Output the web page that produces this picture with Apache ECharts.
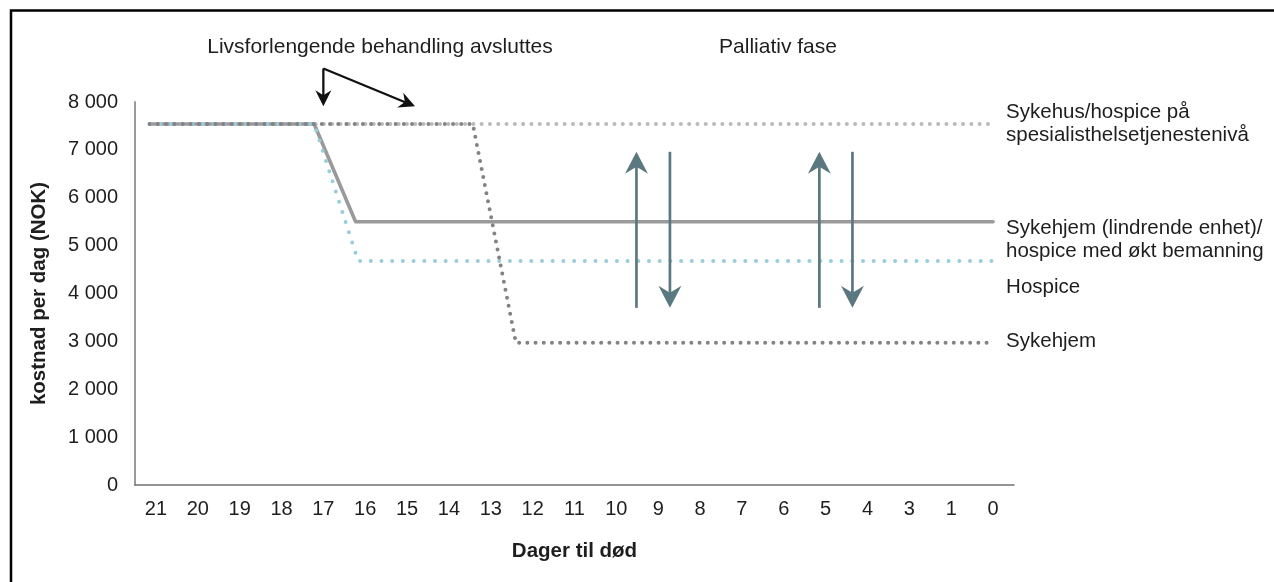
<!DOCTYPE html>
<html>
<head>
<meta charset="utf-8">
<script src="https://cdn.jsdelivr.net/npm/echarts@6/dist/echarts.min.js"></script>
<style>
  html, body { margin: 0; padding: 0; background: #fff; }
  #chart { width: 1274px; height: 582px; }
</style>
</head>
<body>
<div id="chart"></div>
<script>
// Days until death shown on the category axis (2 is not part of the scale)
const categories = ['21', '20', '19', '18', '17', '16', '15', '14', '13', '12', '11', '10', '9', '8', '7', '6', '5', '4', '3', '1', '0'];

// Cost per day (NOK); x is the position along the day axis (0 = "21", 20 = "0")
const sykehusSpesialist = [[-0.15, 7540], [20, 7540]];
const lindrendeEnhet = [[-0.15, 7540], [3.78, 7540], [4.77, 5500], [20, 5500]];
const hospice = [[-0.15, 7540], [3.78, 7540], [4.83, 4680], [20, 4680]];
const sykehjem = [[-0.15, 7540], [7.57, 7540], [8.6, 2970], [20, 2970]];

// Up/down arrows marking variation in cost during the palliative phase
const variationArrows = [
  { x: 11.48, from: 3700, to: 6960 },
  { x: 12.28, from: 6960, to: 3700 },
  { x: 15.85, from: 3700, to: 6960 },
  { x: 16.64, from: 6960, to: 3700 }
];

// Arrows pointing at where life-prolonging treatment ends
const treatmentEndArrows = [
  { from: [4.0, 8700], to: [4.0, 7910] },
  { from: [4.0, 8700], to: [6.19, 7910] }
];

const FONT = '"Liberation Sans", Arial, Helvetica, sans-serif';
const TEXT = '#1e1e1e';

const chart = echarts.init(document.getElementById('chart'), null, { renderer: 'canvas' });

function thousands(v) {
  return String(v).replace(/\B(?=(\d{3})+(?!\d))/g, ' ');
}

function lineSeries(name, data, color, width, dash, labelText, dy) {
  return {
    name: name,
    type: 'line',
    xAxisIndex: 1,
    yAxisIndex: 0,
    data: data,
    symbol: 'none',
    showSymbol: false,
    silent: true,
    clip: false,
    lineStyle: {
      color: color,
      width: width,
      type: dash || 'solid',
      cap: 'round',
      join: 'round'
    },
    endLabel: {
      show: true,
      formatter: () => labelText,
      distance: 13,
      offset: [0, dy],
      color: TEXT,
      fontSize: 20.5,
      fontFamily: FONT,
      lineHeight: 23,
      align: 'left'
    }
  };
}

chart.setOption({
  animation: false,
  backgroundColor: '#ffffff',
  textStyle: { fontFamily: FONT },
  grid: { left: 135, right: 260, top: 102, bottom: 97, containLabel: false },
  xAxis: [
    {
      type: 'category',
      data: categories,
      boundaryGap: true,
      axisTick: { show: false },
      axisLine: { onZero: false, lineStyle: { color: '#707070', width: 1.5 } },
      axisLabel: { fontSize: 20, color: TEXT, margin: 14, fontFamily: FONT },
      splitLine: { show: false },
      name: 'Dager til død',
      nameLocation: 'middle',
      nameGap: 56,
      nameTextStyle: { fontSize: 20.5, fontWeight: 'bold', color: TEXT, fontFamily: FONT }
    },
    {
      type: 'value',
      min: -0.5,
      max: 20.5,
      show: false,
      splitLine: { show: false }
    }
  ],
  yAxis: {
    type: 'value',
    min: 0,
    max: 8000,
    interval: 1000,
    splitLine: { show: false },
    axisTick: { show: false },
    axisLine: { show: true, onZero: false, lineStyle: { color: '#9a9a9a', width: 2 } },
    axisLabel: { fontSize: 20, color: TEXT, margin: 17, fontFamily: FONT, formatter: thousands },
    name: 'kostnad per dag (NOK)',
    nameLocation: 'middle',
    nameGap: 85,
    nameRotate: 90,
    nameTextStyle: { fontSize: 20.5, fontWeight: 'bold', color: TEXT, fontFamily: FONT }
  },
  series: [
    lineSeries('Sykehus/hospice', sykehusSpesialist, '#bababc', 4, [0, 8.3],
      'Sykehus/hospice på\nspesialisthelsetjenestenivå', 0),
    lineSeries('Lindrende enhet', lindrendeEnhet, '#9a9a9c', 3.6, 'solid',
      'Sykehjem (lindrende enhet)/\nhospice med økt bemanning', 18),
    lineSeries('Hospice', hospice, '#98cddc', 4, [0, 10.7], 'Hospice', 26),
    lineSeries('Sykehjem', sykehjem, '#838385', 4, [0, 8.2], 'Sykehjem', -1)
  ]
});

// Arrow helper: shaft from tail to the notch, filled notched head at the tip
function arrow(tail, tip, color, lineWidth, headW, headH, notch) {
  const dx = tip[0] - tail[0], dy = tip[1] - tail[1];
  const len = Math.sqrt(dx * dx + dy * dy);
  const ux = dx / len, uy = dy / len;
  const nx = -uy, ny = ux;
  const bx = tip[0] - ux * headH, by = tip[1] - uy * headH;
  const mx = tip[0] - ux * notch, my = tip[1] - uy * notch;
  return [
    {
      type: 'polyline',
      silent: true,
      z: 20,
      shape: { points: [tail, [mx + ux * 1, my + uy * 1]] },
      style: { stroke: color, lineWidth: lineWidth, fill: null }
    },
    {
      type: 'polygon',
      silent: true,
      z: 21,
      shape: {
        points: [
          tip,
          [bx + nx * headW / 2, by + ny * headW / 2],
          [mx, my],
          [bx - nx * headW / 2, by - ny * headW / 2]
        ]
      },
      style: { fill: color, stroke: null }
    }
  ];
}

const toPx = (p) => chart.convertToPixel({ xAxisIndex: 1, yAxisIndex: 0 }, p);

const graphics = [];

variationArrows.forEach((a) => {
  arrow(toPx([a.x, a.from]), toPx([a.x, a.to]), '#5b7880', 2.7, 23, 22, 15)
    .forEach((g) => graphics.push(g));
});

treatmentEndArrows.forEach((a) => {
  arrow(toPx(a.from), toPx(a.to), '#111111', 2.3, 16, 16, 11)
    .forEach((g) => graphics.push(g));
});

// Phase annotations above the plot
graphics.push({
  type: 'text',
  silent: true,
  x: 380,
  y: 47,
  style: { text: 'Livsforlengende behandling avsluttes', fill: TEXT, fontSize: 21, fontFamily: FONT, align: 'center', verticalAlign: 'middle' }
});
graphics.push({
  type: 'text',
  silent: true,
  x: 778,
  y: 47,
  style: { text: 'Palliativ fase', fill: TEXT, fontSize: 21, fontFamily: FONT, align: 'center', verticalAlign: 'middle' }
});

// Frame around the figure
graphics.push({
  type: 'rect',
  silent: true,
  z: 30,
  shape: { x: 11, y: 10.5, width: 1400, height: 700 },
  style: { fill: null, stroke: '#000000', lineWidth: 2.5 }
});

chart.setOption({ graphic: graphics });
</script>
</body>
</html>
